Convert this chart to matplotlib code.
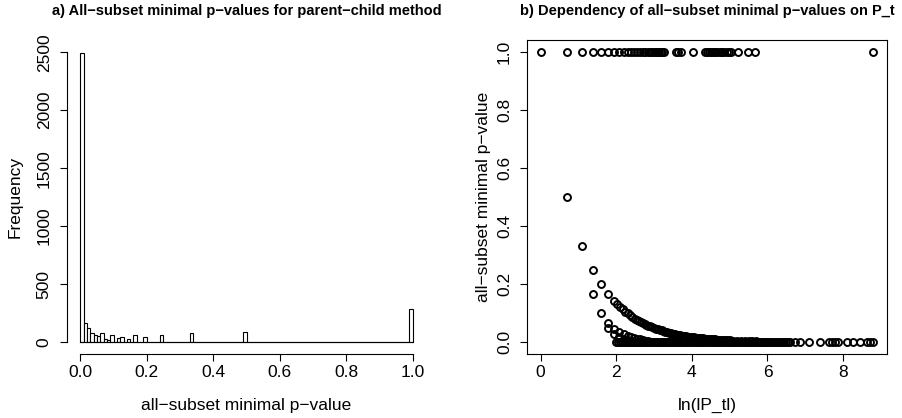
#
# histogram of all-subset minimal p-values and their dependency on P_t
#
import numpy as np
import matplotlib
matplotlib.use("Agg")
import matplotlib.pyplot as plt

plt.rcParams['font.family'] = ['Liberation Sans', 'DejaVu Sans']

# a) histogram, bins of width 0.01 on [0, 1]; only non-empty bins listed
bin_width = 0.01
hist_bin_left = [0.00, 0.01, 0.02, 0.03, 0.04, 0.05, 0.06, 0.07, 0.08, 0.09,
                 0.11, 0.12, 0.14, 0.16, 0.19, 0.24, 0.33, 0.49, 0.99]
hist_counts = [2498, 167, 124, 75, 64, 52, 80, 24, 17, 57,
               34, 40, 29, 57, 40, 60, 80, 84, 284]
hist_xticks = [0.0, 0.2, 0.4, 0.6, 0.8, 1.0]
hist_yticks = [0, 500, 1000, 1500, 2000, 2500]

# b) p-value vs ln(|P_t|)
ones_x = [0.0, 0.69, 1.10, 1.39, 1.61, 1.79, 1.95, 2.08, 2.20, 2.30, 2.40, 2.48,
          2.56, 2.64, 2.71, 2.77, 2.83, 2.89, 2.94, 3.00, 3.04, 3.09, 3.14, 3.18,
          3.22, 3.26, 3.58, 3.64, 3.71, 4.04, 4.34, 4.40, 4.45, 4.50, 4.55, 4.60,
          4.65, 4.71, 4.76, 4.80, 4.86, 4.92, 4.97, 5.04, 5.23, 5.49, 5.67, 8.78]

upper_x = [0.69, 1.10, 1.39, 1.61, 1.79,
           1.95, 2.03, 2.10, 2.17, 2.24, 2.30, 2.37, 2.43, 2.50,
           2.55, 2.60, 2.65, 2.70, 2.75, 2.80, 2.85, 2.90, 2.95, 3.00,
           3.05, 3.10, 3.15, 3.20, 3.25, 3.30, 3.35, 3.40, 3.45, 3.50,
           3.55, 3.60, 3.65, 3.70, 3.75, 3.80, 3.85, 3.90, 3.95, 4.00,
           4.05, 4.10, 4.15, 4.20, 4.25, 4.30, 4.35, 4.40, 4.45, 4.50,
           4.55, 4.60, 4.65, 4.70, 4.75, 4.80, 4.85, 4.90, 4.95, 5.00,
           5.10, 5.20, 5.30, 5.40, 5.50, 5.60, 5.70, 5.80, 5.90, 6.00]
upper_y = [0.500, 0.333, 0.250, 0.200, 0.167,
           0.142, 0.131, 0.122, 0.114, 0.106, 0.100, 0.093, 0.088, 0.082,
           0.078, 0.074, 0.071, 0.067, 0.064, 0.061, 0.058, 0.055, 0.052, 0.050,
           0.047, 0.045, 0.043, 0.041, 0.039, 0.037, 0.035, 0.033, 0.032, 0.030,
           0.029, 0.027, 0.026, 0.025, 0.0235, 0.022, 0.021, 0.020, 0.019, 0.018,
           0.0174, 0.0166, 0.0158, 0.0150, 0.0143, 0.0136, 0.0129, 0.0123, 0.0117, 0.0111,
           0.0106, 0.0100, 0.0096, 0.0091, 0.0087, 0.0082, 0.0078, 0.0074, 0.0071, 0.0067,
           0.0061, 0.0055, 0.0050, 0.0045, 0.0041, 0.0037, 0.0033, 0.0030, 0.0027, 0.0025]

lower_x = [1.39, 1.61, 1.79, 1.79, 1.95, 1.95, 2.08, 2.08, 2.08, 2.20, 2.20, 2.20,
           2.30, 2.30, 2.30, 2.40, 2.40, 2.48, 2.48, 2.56, 2.56, 2.64, 2.71, 2.77,
           2.83]
lower_y = [0.167, 0.100, 0.067, 0.050, 0.045, 0.029, 0.036, 0.020, 0.014, 0.028,
           0.013, 0.008, 0.022, 0.009, 0.005, 0.018, 0.006, 0.015, 0.004, 0.012,
           0.003, 0.010, 0.008, 0.006, 0.005]

# p-values close to zero: dense up to ~6.6, sparse afterwards
floor_x = [2.00, 2.05, 2.10, 2.15, 2.20, 2.25, 2.30, 2.35, 2.40, 2.45,
           2.50, 2.55, 2.60, 2.65, 2.70, 2.75, 2.80, 2.85, 2.90, 2.95,
           3.00, 3.05, 3.10, 3.15, 3.20, 3.25, 3.30, 3.35, 3.40, 3.45,
           3.50, 3.55, 3.60, 3.65, 3.70, 3.75, 3.80, 3.85, 3.90, 3.95,
           4.00, 4.05, 4.10, 4.15, 4.20, 4.25, 4.30, 4.35, 4.40, 4.45,
           4.50, 4.55, 4.60, 4.65, 4.70, 4.75, 4.80, 4.85, 4.90, 4.95,
           5.00, 5.05, 5.10, 5.15, 5.20, 5.25, 5.30, 5.35, 5.40, 5.45,
           5.50, 5.55, 5.60, 5.65, 5.70, 5.75, 5.80, 5.85, 5.90, 5.95,
           6.00, 6.05, 6.10, 6.15, 6.20, 6.25, 6.30, 6.35, 6.40, 6.45,
           6.50, 6.55, 6.60,
           6.72, 6.86, 7.10, 7.40, 7.62, 7.70, 7.78, 7.86, 8.10, 8.27, 8.45, 8.62,
           8.72, 8.80]
floor_y = [0.001] * len(floor_x)

scatter_xticks = [0, 2, 4, 6, 8]
scatter_yticks = [0.0, 0.2, 0.4, 0.6, 0.8, 1.0]

fig = plt.figure(figsize=(9.03, 4.18), dpi=100)
ax1 = fig.add_axes([0.0742, 0.1531, 0.3976, 0.7512])
ax2 = fig.add_axes([0.5839, 0.1531, 0.3980, 0.7512])

lw = 0.8
fs = 12.5

# ---- a) histogram
edges = np.round(np.arange(0, 1.0, bin_width), 2)
counts = np.zeros(len(edges))
for left, c in zip(hist_bin_left, hist_counts):
    counts[int(round(left / bin_width))] = c
ax1.bar(edges, counts, width=bin_width, align='edge', facecolor='white',
        edgecolor='black', linewidth=lw)
ax1.plot([0, 1], [0, 0], color='black', lw=lw)
ax1.set_xlim(-0.04, 1.04)
ax1.set_ylim(-104, 2606)
ax1.spines['top'].set_visible(False)
ax1.spines['right'].set_visible(False)
ax1.spines['bottom'].set_bounds(0, 1)
ax1.spines['left'].set_bounds(0, 2500)
ax1.set_xticks(hist_xticks)
ax1.set_xticklabels(['%.1f' % t for t in hist_xticks])
ax1.set_yticks(hist_yticks)
ax1.set_yticklabels([str(t) for t in hist_yticks], rotation=90, va='center')
ax1.set_title('a) All\u2212subset minimal p\u2212values for parent\u2212child method',
              fontsize=10.5, fontweight='bold', pad=18)
ax1.set_xlabel('all\u2212subset minimal p\u2212value', fontsize=fs, labelpad=13)
ax1.set_ylabel('Frequency', fontsize=fs, labelpad=10)

# ---- b) scatter
mk = dict(ls='none', marker='o', markersize=5.0, markerfacecolor='none',
          markeredgecolor='black', markeredgewidth=1.4)
ax2.plot(ones_x, [1.0] * len(ones_x), **mk)
ax2.plot(upper_x, upper_y, **mk)
ax2.plot(lower_x, lower_y, **mk)
ax2.plot(floor_x, floor_y, **mk)
ax2.set_xlim(-0.352, 9.152)
ax2.set_ylim(-0.04, 1.04)
ax2.set_xticks(scatter_xticks)
ax2.set_xticklabels([str(t) for t in scatter_xticks])
ax2.set_yticks(scatter_yticks)
ax2.set_yticklabels(['%.1f' % t for t in scatter_yticks], rotation=90, va='center')
ax2.set_title('b) Dependency of all\u2212subset minimal p\u2212values on P_t',
              fontsize=10.5, fontweight='bold', pad=18)
ax2.set_xlabel('ln(lP_tl)', fontsize=fs, labelpad=13)
ax2.set_ylabel('all\u2212subset minimal p\u2212value', fontsize=fs, labelpad=4)

for ax in (ax1, ax2):
    for s in ax.spines.values():
        s.set_linewidth(lw)
    ax.tick_params(direction='out', length=5, width=lw, labelsize=fs, pad=3)
    ax.tick_params(axis='y', pad=6)

fig.savefig('out.png', dpi=100)
